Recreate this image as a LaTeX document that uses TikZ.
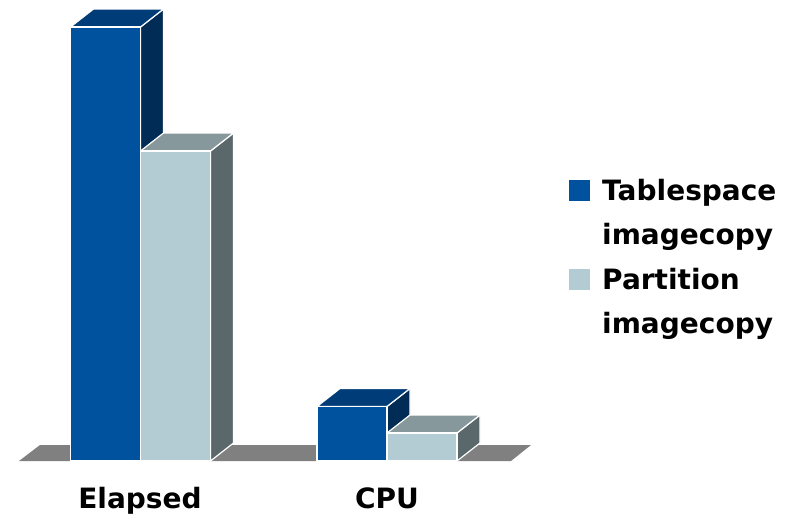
\documentclass[tikz,border=0pt]{standalone}
\usepackage{fontspec}
\setmainfont{DejaVu Sans}
\definecolor{tsfront}{RGB}{0,81,158}
\definecolor{tstop}{RGB}{0,61,120}
\definecolor{tsside}{RGB}{0,44,85}
\definecolor{ptfront}{RGB}{179,203,211}
\definecolor{pttop}{RGB}{135,152,157}
\definecolor{ptside}{RGB}{91,104,107}
\definecolor{floorgray}{RGB}{128,128,128}
\tikzset{
  face/.style={
    draw=white, line width=1.2pt, line join=round
  },
  base/.style={
    fill=floorgray
  },
  lbl/.style={
    font=\fontsize{28}{30}\selectfont\bfseries, inner sep=0pt, anchor=base
  },
  key/.style={
    minimum size=21pt, inner sep=0pt
  },
  keytext/.style={
    font=\fontsize{28}{44}\selectfont\bfseries, align=left, inner sep=0pt, anchor=base west
  }
}
% #1 left x, #2 top y, #3 front, #4 top, #5 side
\newcommand{\barbox}[5]{%
  \filldraw[face, fill=#5] (#1+70,461) -- (#1+93,443) -- (#1+93,#2-18) -- (#1+70,#2) -- cycle;
  \filldraw[face, fill=#4] (#1,#2) -- (#1+23,#2-18) -- (#1+93,#2-18) -- (#1+70,#2) -- cycle;
  \filldraw[face, fill=#3] (#1,461) rectangle (#1+70,#2);
}

\begin{document}
\begin{tikzpicture}[x=1pt, y=-1pt]
  \useasboundingbox (0,0) rectangle (790,514);
  \fill[base] (19,461) -- (40,445) -- (531,445) -- (511,461) -- cycle;
  \barbox{70.5}{27}{tsfront}{tstop}{tsside}
  \barbox{140.5}{151}{ptfront}{pttop}{ptside}
  \barbox{317}{406.5}{tsfront}{tstop}{tsside}
  \barbox{387}{433}{ptfront}{pttop}{ptside}
  \node[lbl] (elapsed) at (140,508) {Elapsed};
  \node[lbl] (cpu) at (387,508) {CPU};
  % base anchor sits on the last line
  \node[key, fill=tsfront] (key-1) at (579,190.5) {};
  \node[keytext] (key-1-text) at (602,244.5) {Tablespace\\imagecopy};
  \node[key, fill=ptfront] (key-2) at (579,279.5) {};
  \node[keytext] (key-2-text) at (602,333.5) {Partition\\imagecopy};
\end{tikzpicture}
\end{document}
